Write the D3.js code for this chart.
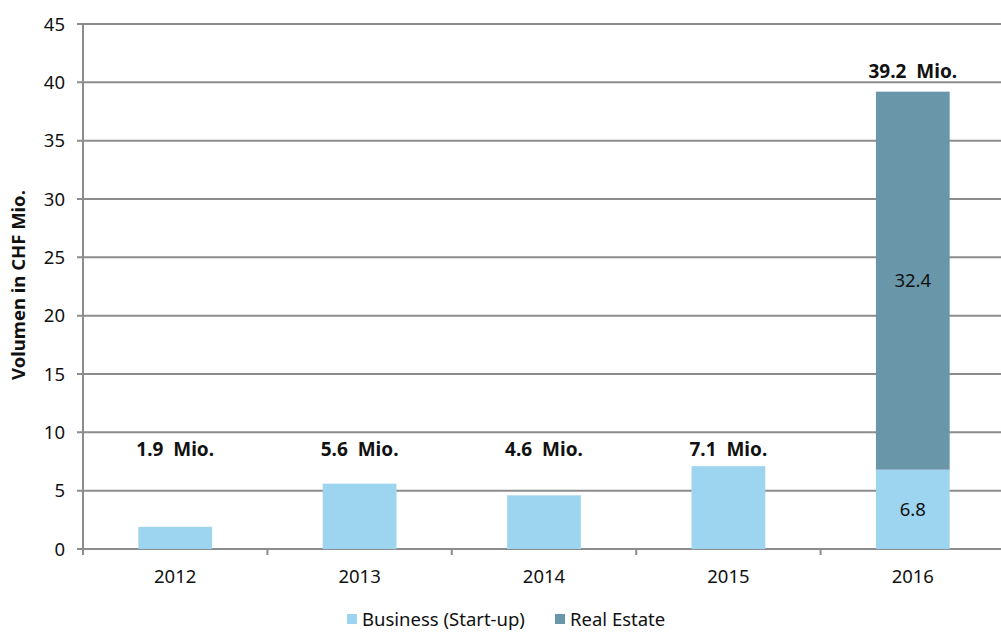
<!DOCTYPE html>
<html><head><meta charset="utf-8">
<script src="https://cdn.jsdelivr.net/npm/d3@7"></script>
<style>
body{margin:0;background:#fff;}
text{font-family:"Noto Sans","Open Sans",sans-serif;fill:#111;}
</style></head>
<body><svg id="c" width="1001" height="635"></svg>
<script>
const years = ["2012","2013","2014","2015","2016"];
const business = [1.9, 5.6, 4.6, 7.1, 6.8];
const realEstate = [0, 0, 0, 0, 32.4];
const totals = [1.9, 5.6, 4.6, 7.1, 39.2];
const yTicks = [0,5,10,15,20,25,30,35,40,45];
const seriesNames = ["Business (Start-up)", "Real Estate"];
const colors = ["#9dd5f0", "#6a96aa"];

const svg = d3.select("#c");
const m = {l:83, r:1005, t:24, b:549};
const x = d3.scaleBand().domain(years).range([m.l, m.r]).paddingInner(0).paddingOuter(0);
const y = d3.scaleLinear().domain([0,45]).range([m.b, m.t]);
const grid = "#8c8c8c";
const fs = "18.5px", fb = "19px";

// gridlines
svg.append("g").selectAll("line").data(yTicks).join("line")
  .attr("x1", m.l-6).attr("x2", 1001)
  .attr("y1", d=>y(d)).attr("y2", d=>y(d))
  .attr("stroke", grid).attr("stroke-width", 2);

// y tick labels
svg.append("g").selectAll("text").data(yTicks).join("text")
  .attr("x", 65).attr("y", d=>y(d)).attr("dy","0.36em")
  .attr("text-anchor","end").style("font-size",fs).text(d=>d);

// y axis line
svg.append("line").attr("x1", m.l).attr("x2", m.l).attr("y1", m.t).attr("y2", m.b+6)
  .attr("stroke", grid).attr("stroke-width", 2);

// x ticks at category boundaries
const bounds = years.map(d=>x(d)).concat([x(years[years.length-1])+x.bandwidth()]);
svg.append("g").selectAll("line").data(bounds.slice(1)).join("line")
  .attr("x1", d=>d).attr("x2", d=>d).attr("y1", m.b).attr("y2", m.b+6)
  .attr("stroke", grid).attr("stroke-width", 2);

const bw = x.bandwidth()*0.4;
const cx = d => x(d) + x.bandwidth()/2;

// bars
svg.append("g").selectAll("rect").data(years).join("rect")
  .attr("x", d=>cx(d)-bw/2).attr("width", bw)
  .attr("y", (d,i)=>y(business[i])).attr("height", (d,i)=>y(0)-y(business[i]))
  .attr("fill", colors[0]);
svg.append("g").selectAll("rect").data(years.filter((d,i)=>realEstate[i]>0)).join("rect")
  .attr("x", d=>cx(d)-bw/2).attr("width", bw)
  .attr("y", d=>{const i=years.indexOf(d); return y(business[i]+realEstate[i]);})
  .attr("height", d=>{const i=years.indexOf(d); return y(business[i])-y(business[i]+realEstate[i]);})
  .attr("fill", colors[1]);

// segment labels for stacked bar
years.forEach((d,i)=>{
  if(realEstate[i]>0){
    svg.append("text").attr("x", cx(d)).attr("y", y(business[i]/2)).attr("dy","0.36em")
      .attr("text-anchor","middle").style("font-size",fs).text(business[i].toFixed(1));
    svg.append("text").attr("x", cx(d)).attr("y", y(business[i]+realEstate[i]/2)).attr("dy","0.36em")
      .attr("text-anchor","middle").style("font-size",fs).text(realEstate[i].toFixed(1));
  }
});

// total labels
const minLab = d3.max(totals.slice(0,4));
svg.append("g").selectAll("text").data(years).join("text")
  .attr("x", d=>cx(d)).attr("y", (d,i)=>y(Math.max(totals[i], minLab)) - (totals[i]>minLab?14:10))
  .attr("text-anchor","middle").style("font-size",fb).style("font-weight","bold")
  .style("white-space","pre").text((d,i)=>totals[i].toFixed(1)+"  Mio.");

// x labels
svg.append("g").selectAll("text").data(years).join("text")
  .attr("x", d=>cx(d)).attr("y", 583).attr("text-anchor","middle").style("font-size",fs).text(d=>d);

// y title
svg.append("text").attr("transform","translate(25,285) rotate(-90)")
  .attr("text-anchor","middle").style("font-size","18.5px").style("font-weight","bold")
  .text("Volumen in CHF Mio.");

// legend
const lg = svg.append("g");
const lx = [347, 555];
seriesNames.forEach((n,i)=>{
  lg.append("rect").attr("x", lx[i]).attr("y", 614).attr("width", 10).attr("height", 10).attr("fill", colors[i]);
  lg.append("text").attr("x", lx[i]+15).attr("y", 619).attr("dy","0.36em").style("font-size",fs).text(n);
});
</script></body></html>
